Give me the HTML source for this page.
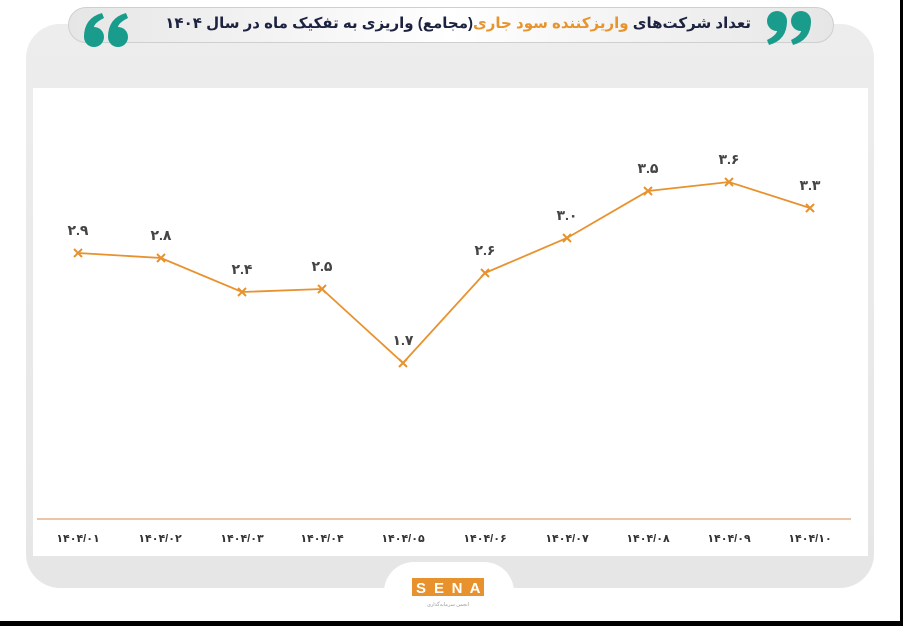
<!DOCTYPE html>
<html><head><meta charset="utf-8"><style>
body{margin:0;width:903px;height:626px;background:#fff;overflow:hidden;position:relative;font-family:"Liberation Sans","DejaVu Sans",sans-serif}
.outer{position:absolute;left:26px;top:24px;width:848px;height:564px;background:linear-gradient(180deg,#ededed,#e6e6e6);border-radius:34px}
.inner{position:absolute;left:33px;top:88px;width:835px;height:468px;background:#fff}
.pill{position:absolute;left:68px;top:7px;width:766px;height:36px;border-radius:18px;background:linear-gradient(90deg,#e6e6e6,#fff 50%,#e6e6e6);border:1px solid #cfcfcf;box-sizing:border-box}
.title{position:absolute;right:152px;top:14px;text-align:right;direction:rtl;font-weight:bold;font-size:15px;color:#1c2240;white-space:nowrap}
.title span{color:#e8942c}
.tab{position:absolute;left:384px;top:562px;width:130px;height:64px;background:#fff;border-radius:30px 30px 0 0}
.black{position:absolute;background:#000}
</style></head><body>
<div class="outer"></div>
<div class="inner"></div>
<div class="pill"></div>
<div class="title">تعداد شرکت‌های <span>واریزکننده سود جاری</span>(مجامع) واریزی به تفکیک ماه در سال ۱۴۰۴</div>
<div class="tab"></div>
<svg width="903" height="626" style="position:absolute;left:0;top:0">
<g fill="#1a9c8c">
<circle cx="94" cy="37" r="10"/><path d="M84,37 Q84,18 102,13 L104,18 Q92,24 94,30 Z"/>
<circle cx="118" cy="37" r="10"/><path d="M108,37 Q108,18 126,13 L128,18 Q116,24 118,30 Z"/>
<circle cx="777" cy="21" r="10"/><path d="M787,21 Q787,40 769,45 L767,40 Q779,34 777,28 Z"/>
<circle cx="801" cy="21" r="10"/><path d="M811,21 Q811,40 793,45 L791,40 Q803,34 801,28 Z"/>
</g>
<line x1="37" y1="519" x2="851" y2="519" stroke="#e0a070" stroke-width="1.2"/>
<polyline fill="none" stroke="#e8922e" stroke-width="1.8" points="78,253 161,258 242,292 322,289 403,363 485,273 567,238 648,191 729,182 810,208"/>
<g stroke="#e8922e" stroke-width="2">
<path d="M74,249l8,8M82,249l-8,8M157,254l8,8M165,254l-8,8M238,288l8,8M246,288l-8,8M318,285l8,8M326,285l-8,8M399,359l8,8M407,359l-8,8M481,269l8,8M489,269l-8,8M563,234l8,8M571,234l-8,8M644,187l8,8M652,187l-8,8M725,178l8,8M733,178l-8,8M806,204l8,8M814,204l-8,8"/>
</g>
<g font-size="14" font-weight="bold" fill="#444" text-anchor="middle" font-family="Liberation Sans,DejaVu Sans,sans-serif">
<text x="78" y="235">۲.۹</text><text x="161" y="240">۲.۸</text><text x="242" y="274">۲.۴</text><text x="322" y="271">۲.۵</text><text x="403" y="345">۱.۷</text><text x="485" y="255">۲.۶</text><text x="567" y="220">۳.۰</text><text x="648" y="173">۳.۵</text><text x="729" y="164">۳.۶</text><text x="810" y="190">۳.۳</text>
</g>
<g font-size="11" font-weight="bold" fill="#333" text-anchor="middle" font-family="Liberation Sans,DejaVu Sans,sans-serif">
<text x="78" y="542">۱۴۰۴/۰۱</text><text x="160" y="542">۱۴۰۴/۰۲</text><text x="242" y="542">۱۴۰۴/۰۳</text><text x="322" y="542">۱۴۰۴/۰۴</text><text x="403" y="542">۱۴۰۴/۰۵</text><text x="485" y="542">۱۴۰۴/۰۶</text><text x="567" y="542">۱۴۰۴/۰۷</text><text x="648" y="542">۱۴۰۴/۰۸</text><text x="729" y="542">۱۴۰۴/۰۹</text><text x="810" y="542">۱۴۰۴/۱۰</text>
</g>
<rect x="412" y="578" width="72" height="18" fill="#e8922e"/>
<g fill="#fff" font-size="15" font-weight="bold" text-anchor="middle"><text x="421" y="593">S</text><text x="439" y="593">E</text><text x="457" y="593">N</text><text x="475" y="593">A</text></g>
<text x="448" y="606" font-size="5" fill="#999" text-anchor="middle">انجمن سرمایه‌گذاری</text>
</svg>
<div class="black" style="left:0;top:621px;width:903px;height:5px"></div>
<div class="black" style="left:900px;top:0;width:3px;height:626px"></div>
</body></html>
